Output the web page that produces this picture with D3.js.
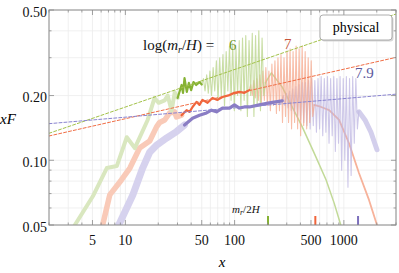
<!DOCTYPE html>
<html>
<head>
<meta charset="utf-8">
<script src="https://cdn.jsdelivr.net/npm/d3@7"></script>
<style>
html, body { margin: 0; padding: 0; background: #fff; }
svg { display: block; font-family: "Liberation Serif", "DejaVu Serif", serif; }
</style>
</head>
<body>
<svg id="chart" width="399" height="273"></svg>
<script>
// ---- data ----
// log(m_r/H) = 6 (green)
const greenEarlyX = [3.3, 3.45, 5.04, 6.76, 8.35, 10.3, 12.2, 16.0, 18.5, 20.2, 22.9, 24.4, 26.5, 28.3, 30.1];
const greenEarlyY = [0.047, 0.05, 0.068, 0.092, 0.094, 0.128, 0.114, 0.154, 0.195, 0.185, 0.19, 0.2, 0.17, 0.207, 0.195];
const greenDarkX = [30.1, 32.7, 33.7, 34.8, 36.5, 38.1, 40.0, 42.0, 44.5, 47.7, 50];
const greenDarkY = [0.195, 0.224, 0.206, 0.241, 0.208, 0.229, 0.212, 0.231, 0.224, 0.231, 0.225];
const greenNoiseX = [50, 51.8, 53.6, 55.5, 57.4, 59.4, 61.5, 63.6, 65.8, 68.1, 70.5, 73, 75.5, 78.2, 80.9, 83.7, 86.7, 89.7, 92.8, 96.1,
    99.4, 102.9, 106.5, 110.2, 114.1, 118.1, 122.2, 126.5, 130.9, 135.5, 140.2, 145.1, 150.2, 155.5, 160.9, 166.5, 172.4, 178.4, 184.6, 192];
const greenNoiseY = [0.225, 0.24, 0.21, 0.25, 0.205, 0.26, 0.2, 0.27, 0.21, 0.29, 0.19, 0.3, 0.2, 0.31, 0.18, 0.32, 0.21, 0.34, 0.19, 0.35,
    0.17, 0.33, 0.2, 0.36, 0.17, 0.37, 0.19, 0.38, 0.16, 0.36, 0.2, 0.39, 0.16, 0.38, 0.18, 0.4, 0.17, 0.37, 0.2, 0.23];
const greenTailX = [191, 217, 273, 337, 416, 535, 688, 815, 937, 1026];
const greenTailY = [0.229, 0.255, 0.219, 0.177, 0.143, 0.108, 0.081, 0.0632, 0.05, 0.0426];

// log(m_r/H) = 7 (orange)
const orangeEarlyX = [5.8, 6.2, 7.2, 9.2, 11.0, 13.5, 16.7, 19.3, 20.6, 22.9, 25.4, 28.2, 29.4, 32.7];
const orangeEarlyY = [0.046, 0.05, 0.069, 0.081, 0.092, 0.114, 0.123, 0.143, 0.150, 0.154, 0.166, 0.168, 0.159, 0.162];
const orangeDarkX = [32.7, 36.3, 38.7, 41.2, 44.8, 47.7, 50.8, 56.5, 62.7, 69.7, 77.4, 89.7, 99.6, 110.6, 122.9, 136.5];
const orangeDarkY = [0.162, 0.171, 0.168, 0.177, 0.187, 0.181, 0.191, 0.185, 0.195, 0.191, 0.197, 0.201, 0.206, 0.208, 0.206, 0.212];
const orangeNoiseX = [136, 140.4, 145, 149.7, 154.5, 159.5, 164.7, 170, 175.5, 181.2, 187.1, 193.1, 199.4, 205.9, 212.5, 219.4, 226.5, 233.9, 241.4, 249.3,
    257.3, 265.7, 274.3, 283.2, 292.3, 301.8, 311.6, 321.7, 332.1, 342.8, 353.9, 365.4, 377.2, 389.5, 402.1, 415.1, 428.5, 442.4, 456.8, 471.6,
    486.8, 502.6, 518.9, 535];
const orangeNoiseY = [0.212, 0.225, 0.2, 0.235, 0.195, 0.24, 0.19, 0.25, 0.185, 0.26, 0.19, 0.27, 0.18, 0.26, 0.17, 0.28, 0.18, 0.29, 0.165, 0.3,
    0.17, 0.31, 0.15, 0.3, 0.16, 0.32, 0.15, 0.33, 0.14, 0.32, 0.15, 0.34, 0.14, 0.33, 0.13, 0.34, 0.145, 0.32, 0.14, 0.3,
    0.15, 0.29, 0.16, 0.18];
const orangeTailX = [535, 619, 733, 904, 1114, 1374, 1698, 2009, 2183];
const orangeTailY = [0.181, 0.177, 0.171, 0.154, 0.120, 0.0873, 0.0654, 0.05, 0.0435];

// log(m_r/H) = 7.9 (purple)
const purpleEarlyX = [8.0, 8.7, 11.7, 14.4, 16.7, 19.5, 23.9, 29.4, 34.8];
const purpleEarlyY = [0.0464, 0.05, 0.069, 0.092, 0.109, 0.118, 0.127, 0.136, 0.146];
const purpleDarkX = [34.8, 41.2, 47.7, 55.3, 61.4, 68.2, 77.4, 89.7, 99.6, 110.6, 122.9, 136.5, 168.4, 207.7, 273];
const purpleDarkY = [0.146, 0.157, 0.162, 0.166, 0.171, 0.168, 0.175, 0.175, 0.181, 0.175, 0.177, 0.177, 0.181, 0.185, 0.189];
const purpleNoiseX = [270, 279.1, 288.6, 298.3, 308.4, 318.8, 329.6, 340.7, 352.2, 364.1, 376.4, 389.1, 402.3, 415.9, 429.9, 444.4, 459.5, 475, 491, 507.6,
    524.8, 542.5, 560.8, 579.8, 599.4, 619.6, 640.6, 662.2, 684.6, 707.7, 731.6, 756.4, 781.9, 808.3, 835.6, 863.9, 893.1, 923.2, 954.4, 986.7,
    1020, 1054, 1090, 1127, 1165, 1204, 1245, 1287, 1330, 1375];
const purpleNoiseY = [0.19, 0.2, 0.18, 0.205, 0.175, 0.21, 0.17, 0.215, 0.165, 0.22, 0.16, 0.225, 0.155, 0.23, 0.15, 0.23, 0.145, 0.235, 0.14, 0.24,
    0.145, 0.235, 0.135, 0.24, 0.14, 0.245, 0.13, 0.24, 0.135, 0.245, 0.12, 0.24, 0.13, 0.245, 0.11, 0.24, 0.12, 0.245, 0.09, 0.24,
    0.1, 0.245, 0.075, 0.24, 0.085, 0.245, 0.12, 0.24, 0.14, 0.17];
const purpleTailX = [1374, 1560, 1770, 2009];
const purpleTailY = [0.168, 0.154, 0.135, 0.112];

// dashed power-law fits (end points)
const trendX = [2, 3000];
const greenTrendY = [0.1335, 0.479];
const orangeTrendY = [0.1297, 0.301];
const purpleTrendY = [0.148, 0.203];

// labels and m_r/2H markers
const seriesLabels = ["6", "7", "7.9"];
const markerX = [202, 548, 1348];
const xTickLabels = [5, 10, 50, 100, 500, 1000];
const yTickLabels = [0.05, 0.1, 0.2, 0.5];

// ---- drawing ----
const svg = d3.select("#chart");
const pLeft = 49, pRight = 396, pTop = 10, pBottom = 225;

const x = d3.scaleLog().domain([2, 3000]).range([pLeft, pRight]);
const y = d3.scaleLog().domain([0.05, 0.5]).range([pBottom, pTop]);

const zip = (xs, ys) => xs.map((v, i) => [v, ys[i]]);
const line = d3.line().x(d => x(d[0])).y(d => y(d[1]));

svg.append("defs").append("clipPath").attr("id", "plot")
    .append("rect").attr("x", pLeft).attr("y", pTop).attr("width", pRight - pLeft).attr("height", pBottom - pTop);

// grid
const grid = svg.append("g").attr("stroke", "#ececec").attr("stroke-width", 0.8);
grid.selectAll(".gx").data(x.ticks()).join("line")
    .attr("x1", d => x(d)).attr("x2", d => x(d)).attr("y1", pTop).attr("y2", pBottom);
grid.selectAll(".gy").data(y.ticks()).join("line")
    .attr("y1", d => y(d)).attr("y2", d => y(d)).attr("x1", pLeft).attr("x2", pRight);

const plot = svg.append("g").attr("clip-path", "url(#plot)").attr("fill", "none")
    .attr("stroke-linejoin", "round").attr("stroke-linecap", "round");

// light early bands
plot.append("path").attr("d", line(zip(purpleEarlyX, purpleEarlyY))).attr("stroke", "#d6d2ee").attr("stroke-width", 7);
plot.append("path").attr("d", line(zip(orangeEarlyX, orangeEarlyY))).attr("stroke", "#f9cab8").attr("stroke-width", 5.5);
plot.append("path").attr("d", line(zip(greenEarlyX, greenEarlyY))).attr("stroke", "#d9e7bf").attr("stroke-width", 4);

// tails
plot.append("path").attr("d", line(zip(greenTailX, greenTailY))).attr("stroke", "#c2da98").attr("stroke-width", 1.5);
plot.append("path").attr("d", line(zip(orangeTailX, orangeTailY))).attr("stroke", "#f7b29a").attr("stroke-width", 1.8);
plot.append("path").attr("d", line(zip(purpleTailX, purpleTailY))).attr("stroke", "#d3cfec").attr("stroke-width", 5);

// noisy parts
plot.append("path").attr("d", line(zip(purpleNoiseX, purpleNoiseY))).attr("stroke", "#bdb6e2").attr("stroke-width", 1.1).attr("opacity", 0.75);
plot.append("path").attr("d", line(zip(orangeNoiseX, orangeNoiseY))).attr("stroke", "#f6a88c").attr("stroke-width", 1.1).attr("opacity", 0.75);
plot.append("path").attr("d", line(zip(greenNoiseX, greenNoiseY))).attr("stroke", "#bcd68e").attr("stroke-width", 1.1).attr("opacity", 0.8);

// dark parts
plot.append("path").attr("d", line(zip(purpleDarkX, purpleDarkY))).attr("stroke", "#8a7dc4").attr("stroke-width", 3.2);
plot.append("path").attr("d", line(zip(orangeDarkX, orangeDarkY))).attr("stroke", "#f0643a").attr("stroke-width", 2.2);
plot.append("path").attr("d", line(zip(greenDarkX, greenDarkY))).attr("stroke", "#86b234").attr("stroke-width", 2.2);

// dashed fits
const trendColors = ["#a3c24a", "#f06e46", "#8a84d0"];
[greenTrendY, orangeTrendY, purpleTrendY].forEach((ty, i) => {
    plot.append("path").attr("d", line(zip(trendX, ty)))
        .attr("stroke", trendColors[i]).attr("stroke-width", 1).attr("stroke-dasharray", "3,2");
});

// m_r/2H markers
const markerColors = ["#86b234", "#f0643a", "#7d70bd"];
svg.append("g").selectAll("line").data(markerX).join("line")
    .attr("x1", d => x(d)).attr("x2", d => x(d))
    .attr("y1", pBottom).attr("y2", pBottom - 9)
    .attr("stroke", (d, i) => markerColors[i]).attr("stroke-width", 2);

// frame and ticks
svg.append("rect").attr("x", pLeft).attr("y", pTop).attr("width", pRight - pLeft).attr("height", pBottom - pTop)
    .attr("fill", "none").attr("stroke", "#8a8a8a").attr("stroke-width", 1);

const ticks = svg.append("g").attr("stroke", "#8a8a8a").attr("stroke-width", 0.8);
x.ticks().forEach(v => {
    const len = xTickLabels.includes(v) ? 5 : 2.5;
    ticks.append("line").attr("x1", x(v)).attr("x2", x(v)).attr("y1", pBottom).attr("y2", pBottom - len);
    ticks.append("line").attr("x1", x(v)).attr("x2", x(v)).attr("y1", pTop).attr("y2", pTop + len);
});
y.ticks().forEach(v => {
    const len = yTickLabels.some(t => Math.abs(t - v) < 1e-9) ? 5 : 2.5;
    ticks.append("line").attr("y1", y(v)).attr("y2", y(v)).attr("x1", pLeft).attr("x2", pLeft + len);
    ticks.append("line").attr("y1", y(v)).attr("y2", y(v)).attr("x1", pRight).attr("x2", pRight - len);
});

// tick labels
svg.append("g").attr("font-size", 14).attr("text-anchor", "middle").attr("fill", "#111")
    .selectAll("text").data(xTickLabels).join("text")
    .attr("x", d => x(d)).attr("y", 245).text(d => d);
svg.append("g").attr("font-size", 14).attr("text-anchor", "end").attr("fill", "#111")
    .selectAll("text").data(yTickLabels).join("text")
    .attr("x", 47).attr("y", d => y(d) + 6.5).text(d3.format(".2f"));

// axis titles
svg.append("text").attr("x", 222).attr("y", 267).attr("text-anchor", "middle")
    .attr("font-size", 15).attr("font-style", "italic").text("x");
svg.append("text").attr("x", 0).attr("y", 124)
    .attr("font-size", 15).attr("font-style", "italic").text("xF");

// legend text
const lg = svg.append("text").attr("x", 143).attr("y", 50).attr("font-size", 15).attr("fill", "#111");
lg.append("tspan").text("log(");
lg.append("tspan").attr("font-style", "italic").text("m");
lg.append("tspan").attr("font-style", "italic").attr("font-size", 10).attr("dy", 3).text("r");
lg.append("tspan").attr("dy", -3).text("/");
lg.append("tspan").attr("font-style", "italic").text("H");
lg.append("tspan").text(") = ");

const labelPos = [[229, 50], [284, 49], [355, 78]];
const labelColors = ["#6f962c", "#c8553a", "#5d5a9e"];
svg.append("g").attr("font-size", 15).selectAll("text").data(seriesLabels).join("text")
    .attr("x", (d, i) => labelPos[i][0]).attr("y", (d, i) => labelPos[i][1])
    .attr("fill", (d, i) => labelColors[i]).text(d => d);

// m_r/2H label
const ml = svg.append("text").attr("x", 232).attr("y", 213).attr("font-size", 11).attr("font-style", "italic").attr("fill", "#111");
ml.append("tspan").text("m");
ml.append("tspan").attr("font-size", 8).attr("dy", 2).text("r");
ml.append("tspan").attr("dy", -2).attr("font-style", "normal").text("/2");
ml.append("tspan").text("H");

// "physical" box
svg.append("rect").attr("x", 321.5).attr("y", 16.5).attr("width", 72).attr("height", 25).attr("rx", 3).attr("fill", "#d8d8d8");
svg.append("rect").attr("x", 320).attr("y", 15).attr("width", 72).attr("height", 25).attr("rx", 3)
    .attr("fill", "#fff").attr("stroke", "#999").attr("stroke-width", 0.8);
svg.append("text").attr("x", 356).attr("y", 32).attr("text-anchor", "middle").attr("font-size", 14).text("physical");
</script>
</body>
</html>
